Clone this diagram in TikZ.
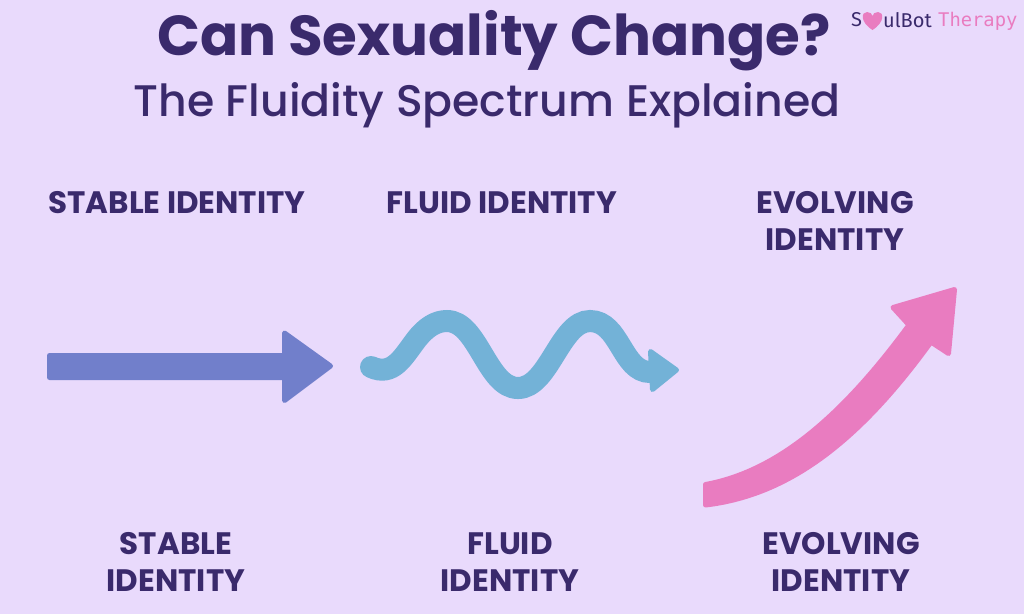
\documentclass[tikz,border=0pt]{standalone}
\usepackage{fontspec}
\setmainfont{Poppins}
\newfontfamily\submedium{Poppins Medium}
\newfontfamily\logofont{Fira Sans}
\newfontfamily\logomono{DejaVu Sans Mono}
\usepackage{xcolor}
\definecolor{backlilac}{HTML}{E9DAFC}
\definecolor{inkpurple}{HTML}{3A2A6C}
\definecolor{stableblue}{HTML}{717FCB}
\definecolor{fluidblue}{HTML}{73B2D7}
\definecolor{evolvepink}{HTML}{E97CC0}
\tikzset{
  maintitle/.style = {text=inkpurple, inner sep=0pt, font=\fontsize{56.3}{60}\selectfont\bfseries},
  subtitle/.style = {text=inkpurple, inner sep=0pt, font=\submedium\fontsize{44.2}{50}\selectfont},
  identlabel/.style = {text=inkpurple, inner sep=0pt, align=center,
    font=\fontsize{31}{37}\selectfont\bfseries},% column labels
  logodark/.style = {text=inkpurple, inner sep=0pt, font=\logofont\fontsize{20}{22}\selectfont},
  logopink/.style = {text=evolvepink, inner sep=0pt, font=\logomono\fontsize{18.8}{22}\selectfont}
}
\begin{document}
\begin{tikzpicture}[x=1pt,y=-1pt]
\fill [backlilac] (0,0) rectangle (1024,614);
\useasboundingbox (0,0) rectangle (1024,614);

\node [maintitle] (title) at (494,41) {Can Sexuality Change?};
\node [subtitle] (sub) at (487,105) {The Fluidity Spectrum Explained};

% logo
\node [logodark, anchor=west] (logoS) at (851,20) {S};
\node [logodark, anchor=west] (logoB) at (883,20) {ulBot};
\node [logopink, anchor=west] (logoT) at (938,21) {Therapy};
\fill [evolvepink] (872.5,30) .. controls (860,22) and (861,12) .. (867,12)
  .. controls (870,12) and (872.5,14) .. (872.5,16)
  .. controls (872.5,14) and (875,12) .. (878,12)
  .. controls (884,12) and (885,22) .. (872.5,30) -- cycle;

% top row
\node [identlabel] (stabletop) at (177,203) {STABLE IDENTITY};
\node [identlabel] (fluidtop) at (502,203) {FLUID IDENTITY};
\node [identlabel] (evolvetop) at (835,221) {EVOLVING\\IDENTITY};

% bottom row
\node [identlabel] (stablebot) at (176,562) {STABLE\\IDENTITY};
\node [identlabel] (fluidbot) at (510,562) {FLUID\\IDENTITY};
\node [identlabel] (evolvebot) at (841,562) {EVOLVING\\IDENTITY};

% straight arrow
\fill [stableblue, draw=stableblue, line width=5pt, line join=round]
  (49.5,355.5) -- (284.5,355.5) -- (284.5,333) -- (330.5,366) -- (284.5,400.5)
  -- (284.5,377.5) -- (49.5,377.5) -- cycle;

% wavy arrow
\draw [fluidblue, line width=22pt, line cap=round]
  (371,367) .. controls (393,377) and (403,357) .. (416,340)
  .. controls (426,327) and (436,321) .. (447,321)
  .. controls (478,321) and (487,388) .. (518,388)
  .. controls (549,388) and (560,321) .. (590,321)
  .. controls (620,321) and (622,372) .. (650,372);
\fill [fluidblue, draw=fluidblue, line width=5pt, line join=round]
  (650.5,351.5) -- (676.5,370) -- (652.5,389.5) -- cycle;

% rising arrow
\fill [evolvepink, draw=evolvepink, line width=5pt, line join=round]
  (705.5,484.5) .. controls (785,470) and (850,405) .. (909,325)
  -- (893,307.5) -- (954.5,289.5) -- (948.5,353.5) -- (931,342)
  .. controls (860,440) and (790,495) .. (705.5,505) -- cycle;
\end{tikzpicture}
\end{document}
